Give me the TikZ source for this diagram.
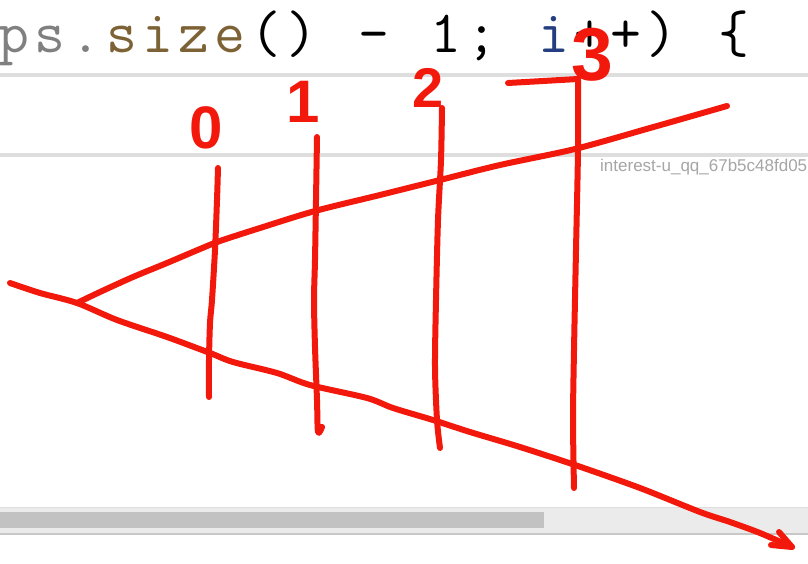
\documentclass[tikz,border=0pt]{standalone}
\usepackage{fontspec}
\setsansfont{Liberation Sans}
\usetikzlibrary{arrows.meta,calc}
\definecolor{pen}{HTML}{F2180C}
\definecolor{sepgray}{HTML}{DEDEDE}
\definecolor{track}{HTML}{EBEBEB}
\definecolor{thumb}{HTML}{C2C2C2}
\definecolor{edge}{HTML}{C8C8C8}
\definecolor{codegray}{HTML}{808080}
\definecolor{codebrown}{HTML}{7D6236}
\definecolor{codeblue}{HTML}{243E80}
\definecolor{tagtext}{HTML}{A6A6A6}

\ExplSyntaxOn
\NewDocumentCommand\codechars{m}{ \tl_map_inline:nn {#1} { \makebox[36pt]{##1} } }
\ExplSyntaxOff

\tikzset{
  ink/.style={draw=pen, line width=6pt, line cap=round, line join=round},
  digit/.style={text=pen, inner sep=0pt, font=\sffamily\bfseries\fontsize{#1}{#1}\selectfont},
}

\begin{document}
\begin{tikzpicture}[x=1pt, y=-1pt]
  \useasboundingbox (0,0) rectangle (808,564);
  \clip (0,0) rectangle (808,564);
  \fill[white] (0,0) rectangle (808,564);

  \node[anchor=base west, inner sep=0pt, font=\ttfamily\fontsize{60}{60}\selectfont] (code) at (-4,53)
    {\textcolor{codegray}{\codechars{ps.}}\textcolor{codebrown}{\codechars{size}}\codechars{(){ }-{ }1;{ }}%
     \textcolor{codeblue}{\codechars{i}}\codechars{++){ }\{}};
  \draw[sepgray, line width=4pt] (0,75) -- (808,75);
  \draw[sepgray, line width=4pt] (0,155) -- (808,155);
  \node[anchor=base west, inner sep=0pt, text=tagtext, font=\sffamily\fontsize{17}{17}\selectfont] (tag) at (600,172)
    {interest-u\_qq\_67b5c48fd05};

  \fill[track] (0,507) rectangle (808,533);
  \draw[sepgray, line width=1pt] (0,507) -- (808,507);
  \fill[thumb] (0,512) rectangle (544,528);
  \draw[edge, line width=2pt] (0,534) -- (808,534);

  \coordinate (apex) at (77,303);
  \coordinate (tip) at (792,547);
  \coordinate (barbA) at (779,532);
  \coordinate (barbB) at (771,545);

  \draw[ink] plot[smooth] coordinates {(apex) (100,292) (133,277) (167,263) (200,249) (220,241) (260,228)
    (315,211) (380,195) (440,180) (500,165) (575,149) (650,128) (727,106)};
  \draw[ink] plot[smooth] coordinates {(10,283) (40,293) (apex) (117,320) (167,337) (210,353) (233,362)
    (277,373) (310,385) (367,398) (393,408) (433,420) (470,432) (520,447) (575,465) (640,488)
    (700,512) (730,522) (760,533) (tip)};
  \draw[ink] (barbA) -- (tip) -- (barbB);

  \draw[ink] plot[smooth] coordinates {(218,168) (217,200) (215,250) (212,300) (210,323) (209,360) (209,397)};
  \draw[ink] plot[smooth] coordinates {(317,137) (316,200) (315,260) (314,300) (315,347) (317,400) (318,432) (322,427)};
  \draw[ink] plot[smooth] coordinates {(442,108) (441,160) (438,220) (436,300) (435,367) (437,420) (440,448)};
  \draw[ink] plot[smooth] coordinates {(578,80) (578,150) (576,250) (574,350) (573,420) (574,488)};
  \draw[ink] (508,83) -- (578,79);

  \node[digit=60] (n0) at (206,128) {0};
  \node[digit=60] (n1) at (303,102) {1};
  \node[digit=56] (n2) at (428,88) {2};
  \node[digit=75] (n3) at (592,55) {3};
\end{tikzpicture}
\end{document}
